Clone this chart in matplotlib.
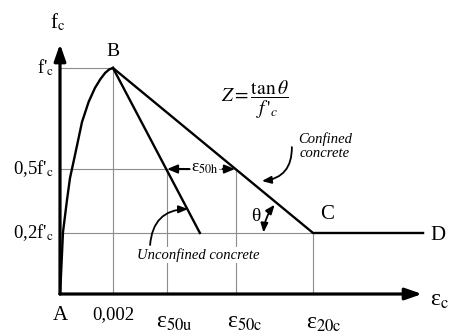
import matplotlib.pyplot as plt

plt.rcParams['font.family'] = ['Liberation Serif', 'DejaVu Serif']
plt.rcParams['mathtext.fontset'] = 'stix'

# strain values along the x axis (as drawn)
eps_peak = 0.002
eps_50u = 0.00404
eps_50c = 0.00664
eps_20c = 0.00955
eps_20u = 0.00528
eps_end = 0.0137

# stress levels in units of f'c (drawn heights, schematic)
lvl_peak = 1.0
lvl_half = 0.553
lvl_20 = 0.27

# ascending branch A -> B
asc_strain = [0, 0.0000377, 0.000113, 0.000264, 0.000377, 0.000566, 0.00083,
              0.00108, 0.00132, 0.00152, 0.0017, 0.00186, 0.002]
asc_stress = [0, 0.084, 0.274, 0.416, 0.513, 0.615, 0.761,
              0.85, 0.912, 0.95, 0.978, 0.994, 1.0]

fig = plt.figure(figsize=(4.51, 3.36), dpi=100)
ax = fig.add_axes([0, 0, 1, 1])
ax.set_xlim(-0.0022642, 0.014755)
ax.set_ylim(-0.1858, 1.3009)
ax.axis('off')

grid = dict(color='0.55', lw=0.8, zorder=1)
# horizontal guide lines
ax.plot([0, eps_peak], [lvl_peak, lvl_peak], **grid)
ax.plot([0, eps_50c], [lvl_half, lvl_half], **grid)
ax.plot([0, eps_20c], [lvl_20, lvl_20], **grid)
# vertical guide lines
ax.plot([eps_peak, eps_peak], [0, lvl_peak], **grid)
ax.plot([eps_50u, eps_50u], [0, lvl_half], **grid)
ax.plot([eps_50c, eps_50c], [0, lvl_half], **grid)
ax.plot([eps_20c, eps_20c], [0, lvl_20], **grid)

# curves
ax.plot(asc_strain, asc_stress, color='k', lw=1.7, zorder=3, solid_joinstyle='round')
ax.plot([eps_peak, eps_20u], [lvl_peak, lvl_20], color='k', lw=1.7, zorder=3)
ax.plot([eps_peak, eps_20c, eps_end], [lvl_peak, lvl_20, lvl_20], color='k', lw=1.7, zorder=3)

# axes with arrows
ax.annotate('', xy=(0.01366, 0), xytext=(0, 0),
            arrowprops=dict(arrowstyle='-|>,head_length=1.0,head_width=0.35', lw=2.3, color='k',
                            shrinkA=0, shrinkB=0), zorder=4)
ax.annotate('', xy=(0, 1.106), xytext=(0, 0),
            arrowprops=dict(arrowstyle='-|>,head_length=1.0,head_width=0.35', lw=2.3, color='k',
                            shrinkA=0, shrinkB=0), zorder=4)

# axis labels
ax.text(-0.0000755, 1.2035, r"f$_\mathrm{c}$", fontsize=15, ha='center', va='center')
ax.text(0.01398, -0.03, r"ε$_\mathrm{c}$", fontsize=17, ha='left', va='center')

# stress tick labels
ax.text(-0.00022, lvl_peak, r"f'$_\mathrm{c}$", fontsize=13.5, ha='right', va='center')
ax.text(-0.00022, lvl_half, r"0,5f'$_\mathrm{c}$", fontsize=13.5, ha='right', va='center')
ax.text(-0.00022, lvl_20, r"0,2f'$_\mathrm{c}$", fontsize=13.5, ha='right', va='center')

# strain tick labels
ax.text(0, -0.093, "A", fontsize=15, ha='center', va='center')
ax.text(eps_peak, -0.093, "0,002", fontsize=13.5, ha='center', va='center')
ax.text(0.00362, -0.128, r"ε$_\mathrm{50u}$", fontsize=17, ha='left', va='center')
ax.text(0.00630, -0.128, r"ε$_\mathrm{50c}$", fontsize=17, ha='left', va='center')
ax.text(0.00928, -0.13, r"ε$_\mathrm{20c}$", fontsize=17, ha='left', va='center')

# point labels
ax.text(eps_peak, 1.071, "B", fontsize=14, ha='center', va='center')
ax.text(0.01008, 0.35, "C", fontsize=15, ha='center', va='center')
ax.text(0.01426, 0.261, "D", fontsize=15, ha='center', va='center')
ax.text(0.0074, 0.345, "θ", fontsize=14, ha='center', va='center')

# formula
ax.text(0.00608, 0.858, r"$Z=\dfrac{\tan\theta}{f\,'_{c}}$", fontsize=14,
        ha='left', va='center')

# curve names
ax.text(0.0100, 0.655, "Confined\nconcrete", fontsize=10.5, style='italic',
        ha='center', va='center', linespacing=1.1)
ax.text(0.0029, 0.1726, "Unconfined concrete", fontsize=10.5, style='italic',
        ha='left', va='center', zorder=5,
        bbox=dict(facecolor='white', edgecolor='none', pad=0.5))

# eps_50h dimension
ax.text(0.00548, 0.5575, r"ε$_\mathrm{50h}$", fontsize=12.5, ha='center', va='center', zorder=5,
        bbox=dict(facecolor='white', edgecolor='none', pad=0.3))
ax.annotate('', xy=(eps_50u, lvl_half), xytext=(0.00488, lvl_half),
            arrowprops=dict(arrowstyle='-|>,head_length=0.6,head_width=0.25', lw=1.5, color='k',
                            shrinkA=0, shrinkB=0), zorder=6)
ax.annotate('', xy=(0.0066, lvl_half), xytext=(0.00614, lvl_half),
            arrowprops=dict(arrowstyle='-|>,head_length=0.6,head_width=0.25', lw=1.5, color='k',
                            shrinkA=0, shrinkB=0), zorder=6)

# pointer arrows
ax.annotate('', xy=(0.00762, 0.50), xytext=(0.00875, 0.650),
            arrowprops=dict(arrowstyle='-|>,head_length=0.55,head_width=0.22', lw=1.3, color='k',
                            connectionstyle='arc3,rad=-0.45', shrinkA=0, shrinkB=0))
ax.annotate('', xy=(0.00483, 0.376), xytext=(0.0034, 0.217),
            arrowprops=dict(arrowstyle='-|>,head_length=0.55,head_width=0.22', lw=1.3, color='k',
                            connectionstyle='arc3,rad=-0.45', shrinkA=0, shrinkB=0))
# theta arc
ax.annotate('', xy=(0.00768, 0.272), xytext=(0.0081, 0.395),
            arrowprops=dict(arrowstyle='<|-|>,head_length=0.55,head_width=0.22', lw=1.3, color='k',
                            connectionstyle='arc3,rad=0.15', shrinkA=0, shrinkB=0))

fig.savefig('out.png', dpi=100)
